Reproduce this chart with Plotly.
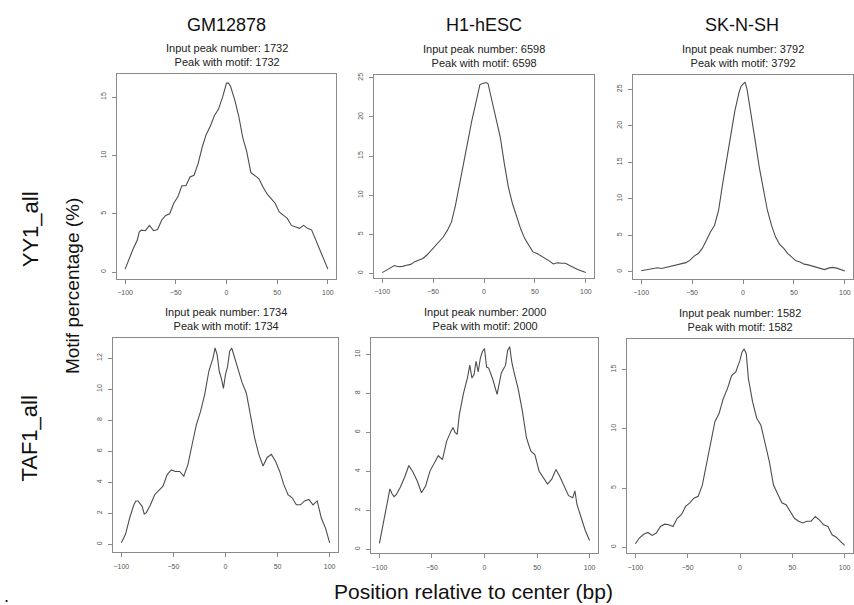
import plotly.graph_objects as go

# ---- data ----
cell_lines = ["GM12878", "H1-hESC", "SK-N-SH"]
factors = ["YY1_all", "TAF1_all"]
peak_counts = [[1732, 6598, 3792], [1734, 2000, 1582]]
x_ticks = [-100, -50, 0, 50, 100]

gm_yy1_x = [-100, -96, -92, -88, -86, -84, -80, -76, -72, -68, -64, -60, -56, -52, -48, -44, -40, -36, -32, -28,
            -24, -20, -16, -12, -8, -4, 0, 2, 4, 8, 12, 16, 20, 24, 28, 32, 36, 40, 44, 48, 52, 56, 60, 64, 68,
            72, 76, 80, 84, 88, 92, 96, 100]
gm_yy1_y = [0.25, 1.2, 2.0, 2.75, 3.45, 3.6, 3.55, 4.0, 3.55, 3.65, 4.45, 4.85, 5.0, 5.9, 6.45, 7.4, 7.4, 8.15,
            8.3, 9.3, 10.7, 11.8, 12.5, 13.4, 13.95, 14.95, 16.2, 16.2, 15.9, 14.8, 13.4, 11.55, 10.3, 8.55, 8.3,
            8.0, 7.3, 6.7, 6.3, 5.9, 5.15, 4.9, 4.6, 4.0, 3.9, 3.75, 4.0, 3.75, 3.6, 2.75, 1.9, 1.05, 0.25]

h1_yy1_x = [-100, -92, -88, -84, -80, -76, -72, -68, -64, -60, -56, -52, -48, -44, -40, -36, -32, -28, -24, -20,
            -16, -12, -8, -4, -2, 0, 2, 4, 8, 12, 16, 20, 24, 28, 32, 36, 40, 44, 48, 52, 56, 60, 64, 68, 72, 76,
            80, 84, 88, 92, 96, 100]
h1_yy1_y = [0.1, 0.75, 1.0, 0.85, 0.9, 1.05, 1.15, 1.5, 1.65, 1.9, 2.35, 2.9, 3.45, 4.0, 4.65, 5.5, 6.55, 8.7,
            11.45, 14.4, 16.95, 19.5, 21.8, 24.15, 24.25, 24.3, 24.4, 24.25, 22.0, 19.5, 17.4, 14.0, 11.0, 8.9,
            7.2, 5.7, 4.45, 3.6, 2.75, 2.55, 2.25, 1.9, 1.6, 1.2, 1.35, 1.3, 1.3, 1.0, 0.7, 0.5, 0.3, 0.1]

sk_yy1_x = [-100, -92, -88, -84, -80, -76, -72, -68, -64, -60, -56, -52, -48, -44, -40, -36, -32, -28, -24, -20,
            -16, -12, -8, -4, -2, 0, 2, 4, 8, 12, 16, 20, 24, 28, 32, 36, 40, 44, 48, 52, 56, 60, 64, 68, 72, 76,
            80, 84, 88, 92, 96, 100]
sk_yy1_y = [0.15, 0.3, 0.4, 0.55, 0.45, 0.6, 0.7, 0.85, 0.95, 1.15, 1.25, 1.6, 2.15, 2.5, 3.2, 4.3, 5.45, 6.35,
            8.4, 12.05, 15.2, 18.85, 22.05, 24.5, 25.4, 25.7, 26.0, 25.0, 21.15, 17.95, 14.3, 11.15, 8.4, 6.35,
            4.75, 3.75, 3.2, 2.5, 2.05, 1.5, 1.35, 1.05, 0.95, 0.8, 0.55, 0.4, 0.3, 0.5, 0.6, 0.5, 0.3, 0.1]

gm_taf1_x = [-100, -96, -92, -88, -86, -84, -80, -78, -76, -72, -68, -64, -60, -56, -52, -48, -44, -40, -36, -32,
             -28, -24, -20, -16, -12, -10, -8, -6, -4, -2, 0, 2, 4, 6, 8, 12, 16, 20, 24, 28, 32, 36, 40, 44, 48,
             52, 56, 60, 64, 68, 72, 76, 80, 84, 88, 92, 96, 100]
gm_taf1_y = [0.1, 0.65, 1.7, 2.55, 2.8, 2.8, 2.45, 1.95, 2.05, 2.55, 3.2, 3.45, 3.75, 4.5, 4.8, 4.7, 4.7, 4.4,
             5.15, 6.45, 7.7, 8.55, 9.65, 11.15, 12.0, 12.65, 12.2, 11.15, 10.7, 10.05, 10.95, 11.45, 12.45,
             12.65, 12.2, 11.15, 10.4, 9.75, 8.35, 6.85, 5.8, 5.05, 5.6, 5.8, 5.35, 4.7, 3.85, 3.2, 3.0, 2.55,
             2.55, 2.8, 2.9, 2.55, 2.8, 1.7, 1.05, 0.1]

h1_taf1_x = [-100, -96, -92, -90, -88, -86, -84, -80, -76, -72, -68, -64, -60, -58, -56, -52, -48, -44, -40, -36,
             -32, -30, -28, -26, -24, -20, -16, -14, -12, -10, -8, -6, -4, -2, 0, 2, 4, 8, 12, 14, 16, 20, 22, 24,
             26, 28, 32, 36, 40, 44, 48, 52, 56, 60, 64, 68, 72, 76, 80, 84, 86, 88, 92, 96, 100]
h1_taf1_y = [0.3, 1.5, 2.5, 3.1, 2.85, 2.7, 2.8, 3.2, 3.7, 4.3, 3.95, 3.5, 2.9, 3.1, 3.25, 4.0, 4.4, 4.8, 4.6,
             5.55, 6.05, 6.25, 6.0, 5.9, 6.9, 8.0, 8.85, 9.45, 8.8, 8.95, 9.65, 9.1, 9.8, 10.15, 10.3, 9.35, 9.3,
             8.7, 7.95, 8.45, 9.05, 9.45, 10.2, 10.4, 9.6, 9.1, 8.25, 7.1, 5.7, 5.05, 4.85, 4.0, 3.7, 3.35, 3.6,
             4.1, 3.7, 3.2, 2.75, 2.65, 3.0, 2.3, 1.65, 0.95, 0.45]

sk_taf1_x = [-100, -96, -92, -88, -84, -80, -76, -72, -68, -64, -60, -56, -52, -48, -44, -40, -36, -32, -28, -24,
             -20, -16, -12, -8, -4, 0, 2, 4, 6, 8, 12, 16, 20, 24, 28, 32, 36, 40, 44, 48, 52, 56, 60, 64, 68, 72,
             76, 80, 84, 88, 92, 96, 100]
sk_taf1_y = [0.3, 0.8, 1.1, 1.25, 1.0, 1.2, 1.75, 1.95, 1.9, 1.75, 2.45, 2.75, 3.45, 3.75, 4.15, 4.3, 5.25, 6.95,
             8.65, 10.6, 11.3, 12.55, 13.4, 14.5, 14.8, 15.8, 16.5, 16.75, 16.35, 14.25, 12.3, 10.9, 10.3, 8.9,
             7.25, 5.25, 4.45, 3.75, 3.6, 3.05, 2.45, 2.2, 2.05, 2.2, 2.2, 2.6, 2.3, 1.9, 1.75, 1.05, 0.85, 0.5,
             0.15]

series = [[(gm_yy1_x, gm_yy1_y), (h1_yy1_x, h1_yy1_y), (sk_yy1_x, sk_yy1_y)],
          [(gm_taf1_x, gm_taf1_y), (h1_taf1_x, h1_taf1_y), (sk_taf1_x, sk_taf1_y)]]

# ---- layout geometry (pixels) ----
W, H = 854, 605
boxes = [[(117, 336, 72, 278), (374, 594, 73, 277), (633, 853, 73, 278)],
         [(113, 338, 337, 552), (371, 598, 337, 553), (627, 853, 338, 553)]]
y_ranges = [[(-0.6, 17.0), (-0.6, 25.4), (-1.0, 27.0)],
            [(-0.5, 13.3), (-0.2, 10.85), (-0.5, 17.6)]]
y_dticks = [[5, 5, 5], [2, 2, 5]]

FONT = "Liberation Sans, Arial, sans-serif"
fig = go.Figure()
annotations = []
k = 0
for r in range(2):
    for c in range(3):
        k += 1
        xa = "xaxis" if k == 1 else f"xaxis{k}"
        ya = "yaxis" if k == 1 else f"yaxis{k}"
        xref = "x" if k == 1 else f"x{k}"
        yref = "y" if k == 1 else f"y{k}"
        x0, x1, y0, y1 = boxes[r][c]
        xs, ys = series[r][c]
        fig.add_trace(go.Scatter(x=xs, y=ys, mode="lines", xaxis=xref, yaxis=yref,
                                 line=dict(color="#4d4d4d", width=1.1), showlegend=False,
                                 hoverinfo="skip"))
        axis_common = dict(showline=True, mirror=True, linecolor="#8a8a8a", linewidth=1,
                           ticks="outside", ticklen=4, tickcolor="#8a8a8a", tickwidth=1,
                           showgrid=False, zeroline=False,
                           tickfont=dict(family=FONT, size=7, color="#555"))
        fig.layout[xa] = dict(domain=[x0 / W, x1 / W], range=[-108, 108], tickvals=x_ticks,
                              anchor=yref, ticklabelstandoff=3, **axis_common)
        fig.layout[ya] = dict(domain=[1 - y1 / H, 1 - y0 / H], range=list(y_ranges[r][c]),
                              dtick=y_dticks[r][c], tick0=0, anchor=xref, tickangle=-90,
                              ticklabelstandoff=3, **axis_common)
        n = peak_counts[r][c]
        annotations.append(dict(x=(x0 + x1) / 2 / W, y=1 - (y0 - 4) / H, xref="paper", yref="paper",
                                xanchor="center", yanchor="bottom", showarrow=False,
                                text=f"Input peak number: {n}<br>Peak with motif: {n}",
                                font=dict(family=FONT, size=11, color="#222")))

# column titles
col_centers = [226, 484, 742]
for name, cx in zip(cell_lines, col_centers):
    annotations.append(dict(x=cx / W, y=1 - 23 / H, xref="paper", yref="paper", xanchor="center",
                            yanchor="middle", showarrow=False, text=name,
                            font=dict(family=FONT, size=18, color="#111")))
# row labels
row_centers = [228, 438]
for name, cy in zip(factors, row_centers):
    annotations.append(dict(x=30 / W, y=1 - cy / H, xref="paper", yref="paper", xanchor="center",
                            yanchor="middle", showarrow=False, text=name, textangle=-90,
                            font=dict(family=FONT, size=22, color="#111")))
# axis titles
annotations.append(dict(x=72 / W, y=1 - 285 / H, xref="paper", yref="paper", xanchor="center",
                        yanchor="middle", showarrow=False, text="Motif percentage (%)", textangle=-90,
                        font=dict(family=FONT, size=19, color="#111")))
annotations.append(dict(x=474 / W, y=1 - 591 / H, xref="paper", yref="paper", xanchor="center",
                        yanchor="middle", showarrow=False, text="Position relative to center (bp)",
                        font=dict(family=FONT, size=21, color="#111")))
annotations.append(dict(x=6 / W, y=1 - 596 / H, xref="paper", yref="paper", xanchor="center",
                        yanchor="middle", showarrow=False, text=".",
                        font=dict(family=FONT, size=18, color="#111")))

fig.update_layout(width=W, height=H, margin=dict(l=0, r=0, t=0, b=0),
                  paper_bgcolor="white", plot_bgcolor="white", annotations=annotations)

fig.write_html("out.html")
